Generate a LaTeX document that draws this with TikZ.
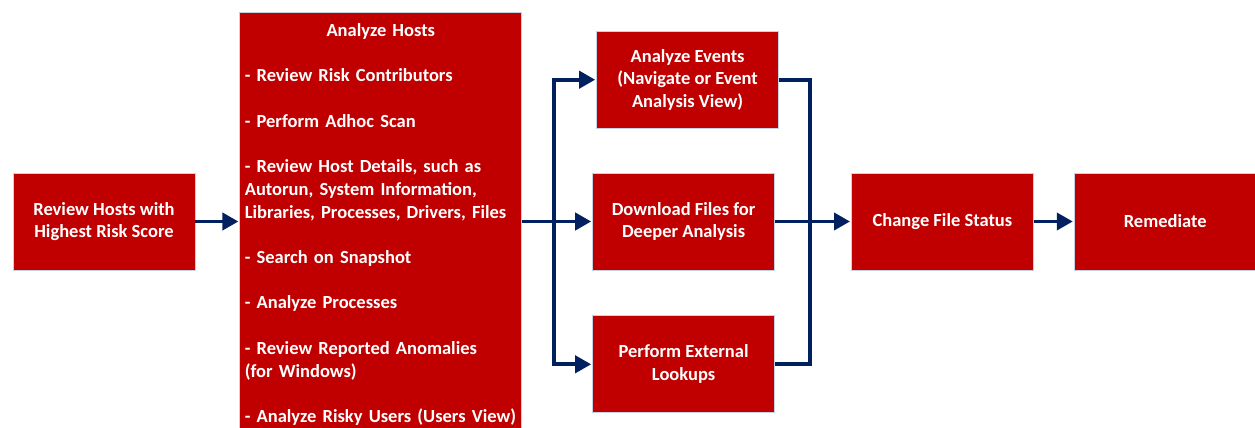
\documentclass[tikz,border=0pt]{standalone}
\usepackage{fontspec}
\setmainfont{Carlito}
\usetikzlibrary{arrows.meta,positioning}

\definecolor{boxred}{RGB}{192,0,0}
\definecolor{navy}{RGB}{0,32,96}
\definecolor{boxedge}{RGB}{196,210,228}

\begin{document}
\begin{tikzpicture}[x=1pt, y=1pt, align=center,
    box/.style={rectangle, fill=boxred, draw=boxedge, line width=0.8pt,
        text=white, font=\bfseries\fontsize{18.5}{22.7}\selectfont,
        minimum width=182pt, minimum height=97pt, inner sep=5pt},
    wire/.style={draw=navy, line width=3.8pt},
    flow/.style={wire, shorten >=1pt,
        -{Triangle[length=16pt, width=17pt]}}]
    \useasboundingbox (0,0) rectangle (1255,-428);

    % first two steps
    \node[box] (review) at (104,-221.5) {Review Hosts with\\Highest Risk Score};
    \node[box, right=44pt of review, yshift=-3pt, minimum width=282pt,
          minimum height=425pt, text width=272pt, align=left] (hosts) {%
        \makebox[\hsize]{Analyze Hosts}\\[22.7pt]
        - Review Risk Contributors\\[22.7pt]
        - Perform Adhoc Scan\\[22.7pt]
        - Review Host Details, such as\\
        Autorun, System Information,\\
        Libraries, Processes, Drivers, Files\\[22.7pt]
        - Search on Snapshot\\[22.7pt]
        - Analyze Processes\\[22.7pt]
        - Review Reported Anomalies\\
        (for Windows)\\[22.7pt]
        - Analyze Risky Users (Users View)};

    % parallel column
    \node[box, right=70pt of hosts.east|-review.east, anchor=west] (download)
        {Download Files for\\Deeper Analysis};
    \node[box, above=44pt of download, xshift=4pt] (events)
        {Analyze Events\\(Navigate or Event\\Analysis View)};
    \node[box, below=45pt of download] (lookups)
        {Perform External\\Lookups};

    % last steps
    \node[box, right=76pt of download] (status) {Change File Status};
    \node[box, right=40pt of status] (remediate) {Remediate};

    \coordinate (split) at ([xshift=32pt]hosts.east|-review.east);
    \coordinate (merge) at ([xshift=35pt]download.east);

    \draw [flow] (review) -- (review-|hosts.west);
    \draw [flow] (hosts.east|-download) -- (download);
    \draw [flow] (split) |- (events);
    \draw [flow] (split) |- (lookups);
    \draw [wire] (events) -| (merge);
    \draw [wire] (lookups) -| (merge);
    \draw [flow] (download) -- (status);
    \draw [flow] (status) -- (remediate);
\end{tikzpicture}
\end{document}
